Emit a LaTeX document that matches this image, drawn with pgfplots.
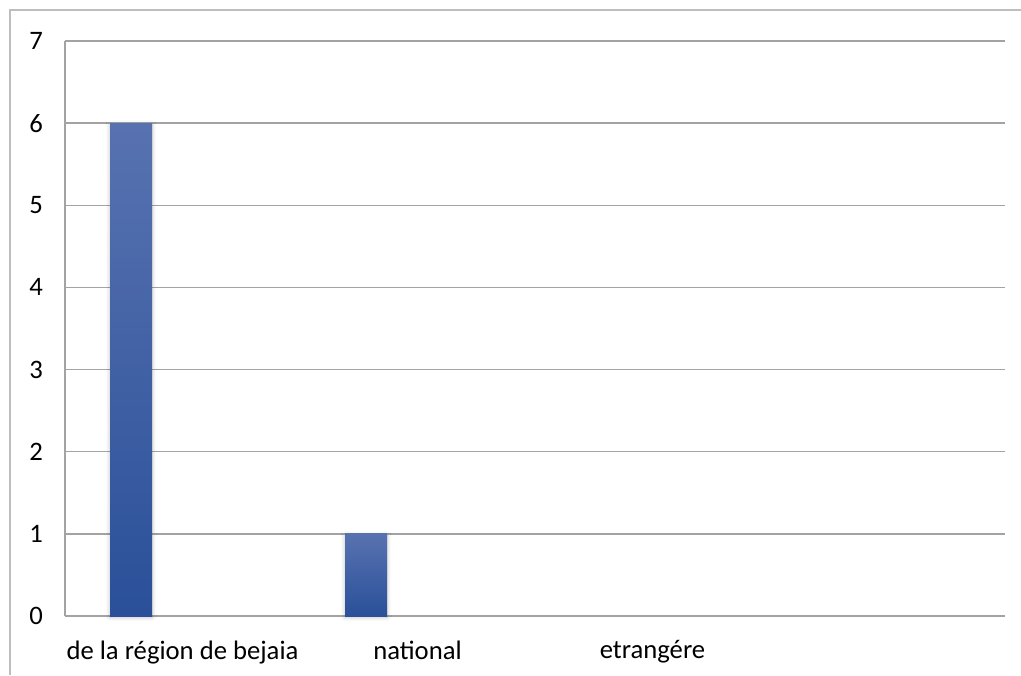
\documentclass[border=0pt]{standalone}
\usepackage{pgfplots}
\pgfplotsset{compat=1.18}
\usetikzlibrary{shadows.blur}
\usepackage{fontspec}
\setmainfont{Carlito}
\definecolor{gridgray}{HTML}{A3A3A3}
\definecolor{bartop}{HTML}{5872B0}
\definecolor{barbot}{HTML}{2A5099}
\pgfplotsset{
  gradbar/.style={draw=none, top color=bartop, bottom color=barbot,
    bar shift=0pt,
    blur shadow={shadow xshift=0pt, shadow yshift=-1pt,
      shadow blur radius=3pt, shadow opacity=25}},
}
\begin{document}
\begin{tikzpicture}
\begin{axis}[
  at={(0,0)}, anchor=south west,
  scale only axis,
  width=705pt, height=431.25pt,
  xmin=0, xmax=4, ymin=0, ymax=7,
  ytick={0,1,...,7},
  xtick={0.5,1.5,2.5},
  xticklabels={de la région de bejaia, national, etrangére},
  major tick length=0pt,
  ymajorgrids,
  grid style={gridgray, line width=1.1pt},
  axis x line*=bottom, axis y line*=left,
  axis line style={gridgray, line width=1.1pt},
  tick label style={font=\fontsize{20}{23}\selectfont, text=black},
  /pgf/number format/assume math mode=true,
  yticklabel style={anchor=east, xshift=-13pt},
  xticklabel style={anchor=north, yshift=-15pt},
  ybar, bar width=0.179,
  clip=false,
]
% one plot per category so each bar gets its own gradient
\addplot[gradbar] coordinates {(0.281,6)};
\addplot[gradbar] coordinates {(1.281,1)};
\addplot[draw=none, fill=none, bar shift=0pt] coordinates {(2.281,0)};
\end{axis}
\path[use as bounding box] (-48.75pt,-44.25pt) rectangle (717pt,462pt);
\draw[gridgray!70, line width=1.1pt] (-41.25pt,-44.25pt) -- (-41.25pt,454.5pt) -- (717pt,454.5pt);
\end{tikzpicture}
\end{document}
